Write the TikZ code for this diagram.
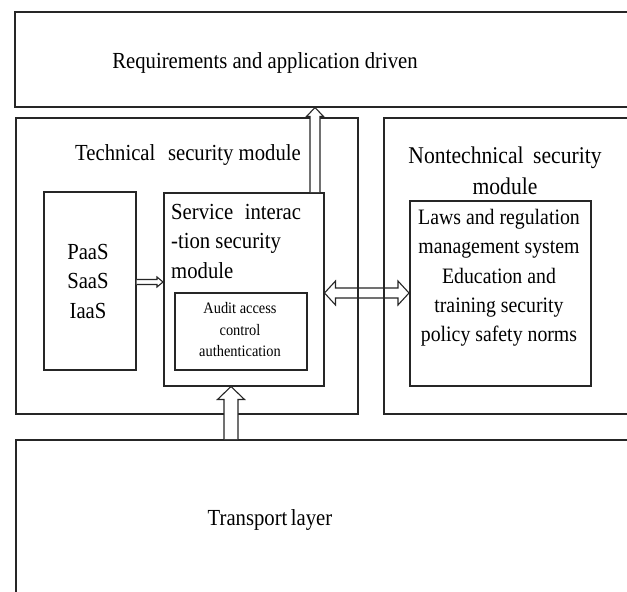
\documentclass[tikz,border=0pt]{standalone}
\usepackage{fontspec}
\setmainfont{Liberation Serif}[FakeStretch=0.9]
\usetikzlibrary{calc}
\newcommand\hollowarrow[6]{% start, end, shaft half, head half, head length, fill
  \draw[arrowline, fill=#6] let \p1=($(#2)!#5!(#1)$) in
    ($(#1)!#3!90:(#2)$) -- ($(\p1)!#3!-90:(#1)$) -- ($(\p1)!#4!-90:(#1)$) -- (#2)
    -- ($(\p1)!#4!90:(#1)$) -- ($(\p1)!#3!90:(#1)$) -- ($(#1)!#3!-90:(#2)$);
}
\newcommand\hollowdarrow[5]{% end a, end b, shaft half, head half, head length
  \draw[arrowline] let \p1=($(#1)!#5!(#2)$), \p2=($(#2)!#5!(#1)$) in
    (#1) -- ($(\p1)!#4!90:(#2)$) -- ($(\p1)!#3!90:(#2)$) -- ($(\p2)!#3!-90:(#1)$)
    -- ($(\p2)!#4!-90:(#1)$) -- (#2) -- ($(\p2)!#4!90:(#1)$) -- ($(\p2)!#3!90:(#1)$)
    -- ($(\p1)!#3!-90:(#2)$) -- ($(\p1)!#4!-90:(#2)$) -- cycle;
}
\begin{document}
\begin{tikzpicture}[x=1pt,y=-1pt,
  box/.style={draw=black!85, line width=1.5pt, inner sep=0pt, anchor=north west},
  arrowline/.style={draw=black!85, line width=1.1pt, line join=miter},
  txt/.style={inner sep=0pt, text=black},
  big/.style={font=\fontsize{23}{29.5}\selectfont},
  bigger/.style={font=\fontsize{24}{30.5}\selectfont},
  mid/.style={font=\fontsize{22}{29.3}\selectfont},
  small/.style={font=\fontsize{16}{21.5}\selectfont}]
\clip (0,0) rectangle (627,592);
\fill[white] (0,0) rectangle (627,592);
% boxes
\node[box, minimum width=640pt, minimum height=95pt] (top) at (14,11) {};
\node[box, minimum width=342pt, minimum height=296pt] (tech) at (15,117) {};
\node[box, minimum width=260pt, minimum height=296pt] (nontech) at (383,117) {};
\node[box, minimum width=640pt, minimum height=180pt] (transport) at (15,439) {};
\node[box, minimum width=92pt, minimum height=178pt] (paas) at (43,191) {};
\node[box, minimum width=160pt, minimum height=193pt] (svc) at (163,192) {};
\node[box, minimum width=132pt, minimum height=77pt] (audit) at (174,292) {};
\node[box, minimum width=181pt, minimum height=185pt] (laws) at (409,200) {};
% texts
\node[txt, big] (reqtext) at (265,63) {Requirements and application driven};
\node[txt, big] (techtext) at (188,155) {Technical\hspace{0.55em}security module};
\node[txt, bigger, align=center] (nontechtext) at (505,171) {Nontechnical\hspace{0.4em}security\\module};
\node[txt, big, align=center] (paastext) at (88,281) {PaaS\\SaaS\\IaaS};
\node[txt, big, align=left, anchor=north west] (svctext) at (171,204) {Service\hspace{0.5em}interac\\-tion security\\module};
\node[txt, small, align=center] (audittext) at (240,330) {Audit access\\control\\authentication};
\node[txt, mid, align=center] (lawstext) at (499,278) {Laws and regulation\\management system\\Education and\\training security\\policy safety norms};
\node[txt, big] (transtext) at (270,520) {Transport\hspace{0.15em}layer};
% connector anchors
\coordinate (x315) at (315,0);
\coordinate (x231) at (231,0);
\coordinate (y293) at (0,293);
\coordinate (y282) at (0,282);
\coordinate (u1a) at (svc.north -| x315);
\coordinate (u1b) at (top.south -| x315);
\coordinate (u2a) at (transport.north -| x231);
\coordinate (u2b) at (svc.south -| x231);
\coordinate (h1a) at (svc.east |- y293);
\coordinate (h1b) at (laws.west |- y293);
\coordinate (p1a) at (paas.east |- y282);
\coordinate (p1b) at (svc.west |- y282);
% arrows
\hollowarrow{u1a}{u1b}{5pt}{8.5pt}{9pt}{white}
\hollowarrow{u2a}{u2b}{7pt}{13.5pt}{13pt}{white}
\hollowdarrow{h1a}{h1b}{5pt}{12pt}{11pt}
\hollowarrow{p1a}{p1b}{2.5pt}{5pt}{6pt}{white}
\end{tikzpicture}
\end{document}
